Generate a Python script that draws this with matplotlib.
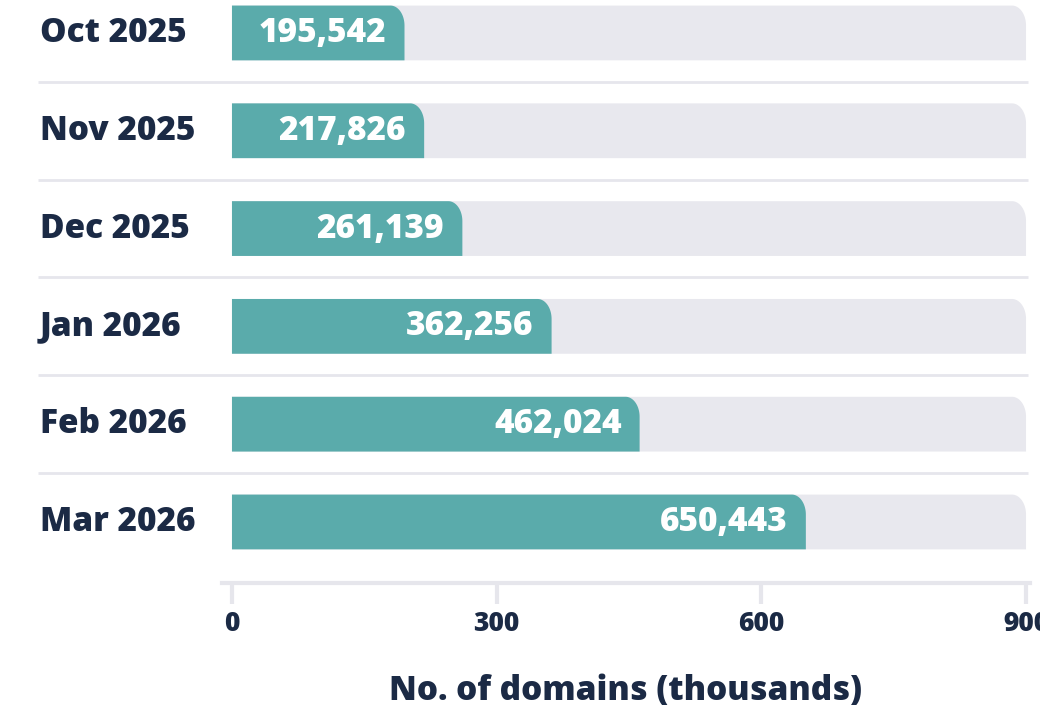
import numpy as np
import matplotlib
matplotlib.use("Agg")
import matplotlib.pyplot as plt
from matplotlib.patches import Polygon
from matplotlib.transforms import blended_transform_factory

months = ["Oct 2025", "Nov 2025", "Dec 2025", "Jan 2026", "Feb 2026", "Mar 2026"]
domains = [195542, 217826, 261139, 362256, 462024, 650443]
x_max = 900
x_ticks = [0, 300, 600, 900]

teal = "#5aabab"
track = "#e8e8ee"
line_col = "#e6e6ec"
navy = "#1b2a45"

plt.rcParams["font.family"] = ["Open Sans", "DejaVu Sans"]

fig = plt.figure(figsize=(10.4, 7.08), dpi=100)
ax = fig.add_axes([222 / 1040, 1 - 583 / 708, 808 / 1040, 583 / 708])
ax.set_xlim(-11.3, 904.5)
ax.set_ylim(5.624, -0.337)

bar_h = 0.56


def rounded_bar(ax, y, width, color, rx_px=14, ry_px=20):
    # top-right corner rounded, everything else square
    p0 = ax.transData.transform((0, 0))
    p1 = ax.transData.transform((1, 1))
    rx = rx_px / abs(p1[0] - p0[0])
    ry = ry_px / abs(p1[1] - p0[1])
    top = y - bar_h / 2
    bottom = y + bar_h / 2
    a = np.linspace(np.pi / 2, 0, 24)
    arc = np.column_stack([width - rx + rx * np.cos(a), top + ry - ry * np.sin(a)])
    verts = np.vstack([[[0, bottom], [0, top]], arc, [[width, bottom]]])
    ax.add_patch(Polygon(verts, closed=True, facecolor=color, edgecolor="none"))


ys = np.arange(len(months))
for y, m, v in zip(ys, months, domains):
    rounded_bar(ax, y, x_max, track)
    rounded_bar(ax, y, v / 1000, teal)
    ax.annotate(f"{v:,}", xy=(v / 1000, y), xytext=(-13, 0), textcoords="offset points",
                ha="right", va="center", color="white", fontsize=24, fontweight="heavy")

# row labels and separators
tr = blended_transform_factory(fig.transFigure, ax.transData)
for y, m in zip(ys, months):
    ax.text(40 / 1040, y, m, transform=tr, ha="left", va="center",
            color=navy, fontsize=24, fontweight="heavy")
for y in ys[:-1] + 0.5:
    ax.plot([38 / 1040, 1028 / 1040], [y, y], transform=tr, color=line_col,
            lw=2, clip_on=False, solid_capstyle="butt")

for s in ["top", "right", "left"]:
    ax.spines[s].set_visible(False)
ax.spines["bottom"].set_color(line_col)
ax.spines["bottom"].set_linewidth(3)
ax.set_yticks([])
ax.set_xticks(x_ticks)
ax.tick_params(axis="x", length=15, width=3, color=line_col, pad=5,
               labelsize=19, labelcolor=navy)
for lbl in ax.get_xticklabels():
    lbl.set_fontweight("heavy")
ax.set_xlabel("No. of domains (thousands)", fontsize=24, fontweight="heavy",
              color=navy, labelpad=27)

fig.savefig("out.png", dpi=100)
